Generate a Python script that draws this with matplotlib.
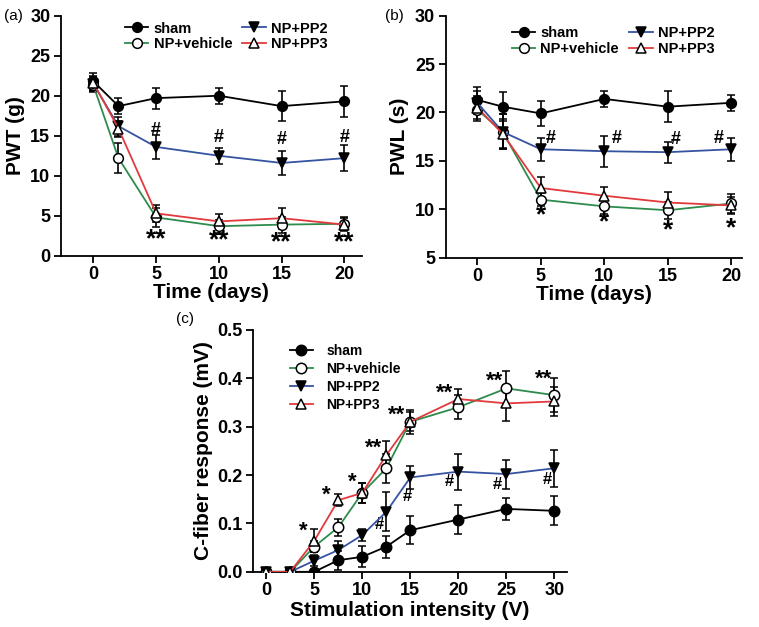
import matplotlib
matplotlib.use("Agg")
import matplotlib.pyplot as plt
from matplotlib.lines import Line2D

plt.rcParams["font.family"] = ["Liberation Sans", "DejaVu Sans"]
plt.rcParams["font.weight"] = "bold"

# Cores das séries
CORES = {
    "sham": "black",
    "NP+vehicle": "#2e8b4e",
    "NP+PP2": "#3553a0",
    "NP+PP3": "#e23a3c",
}
MARCADORES = {
    "sham": ("o", "black"),
    "NP+vehicle": ("o", "white"),
    "NP+PP2": ("v", "black"),
    "NP+PP3": ("^", "white"),
}
GRUPOS = ["sham", "NP+vehicle", "NP+PP2", "NP+PP3"]

# (a) PWT
dias = [0, 2, 5, 10, 15, 20]
pwt_media = {
    "sham": [21.8, 18.7, 19.7, 20.0, 18.7, 19.3],
    "NP+vehicle": [21.3, 12.2, 4.8, 3.7, 3.9, 4.0],
    "NP+PP2": [21.5, 16.2, 13.6, 12.5, 11.6, 12.2],
    "NP+PP3": [21.6, 15.9, 5.3, 4.3, 4.7, 3.9],
}
pwt_erro = {
    "sham": [1.1, 1.0, 1.3, 1.0, 1.9, 1.9],
    "NP+vehicle": [0.8, 1.9, 1.2, 0.8, 1.0, 0.8],
    "NP+PP2": [0.9, 1.2, 1.5, 1.0, 1.5, 1.6],
    "NP+PP3": [0.9, 1.0, 1.1, 0.9, 1.3, 0.8],
}

# (b) PWL
pwl_media = {
    "sham": [21.3, 20.6, 19.9, 21.4, 20.6, 21.0],
    "NP+vehicle": [20.3, 18.0, 11.0, 10.3, 9.9, 10.6],
    "NP+PP2": [21.0, 18.0, 16.2, 16.0, 15.9, 16.2],
    "NP+PP3": [20.5, 17.8, 12.2, 11.4, 10.7, 10.4],
}
pwl_erro = {
    "sham": [1.3, 1.5, 1.3, 0.8, 1.6, 0.8],
    "NP+vehicle": [1.2, 1.8, 0.7, 0.8, 0.9, 1.0],
    "NP+PP2": [1.2, 1.8, 1.2, 1.6, 1.1, 1.2],
    "NP+PP3": [1.2, 1.5, 1.1, 0.9, 1.1, 0.9],
}

# (c) C-fiber
intensidade = [0, 2.5, 5, 7.5, 10, 12.5, 15, 20, 25, 30]
cfibra_media = {
    "sham": [0, 0, 0.0, 0.024, 0.031, 0.052, 0.086, 0.108, 0.130, 0.126],
    "NP+vehicle": [0, 0, 0.052, 0.092, 0.163, 0.214, 0.310, 0.340, 0.379, 0.365],
    "NP+PP2": [0, 0, 0.023, 0.045, 0.076, 0.124, 0.195, 0.207, 0.202, 0.214],
    "NP+PP3": [0, 0, 0.064, 0.148, 0.163, 0.241, 0.310, 0.357, 0.348, 0.352],
}
cfibra_erro = {
    "sham": [0, 0, 0.0, 0.020, 0.022, 0.023, 0.029, 0.030, 0.023, 0.030],
    "NP+vehicle": [0, 0, 0.012, 0.017, 0.020, 0.030, 0.020, 0.025, 0.035, 0.035],
    "NP+PP2": [0, 0, 0.012, 0.018, 0.012, 0.040, 0.024, 0.037, 0.030, 0.038],
    "NP+PP3": [0, 0, 0.024, 0.013, 0.020, 0.030, 0.025, 0.020, 0.037, 0.030],
}

# Marcas de significância (x, y, texto)
sig_a_hash = [(5, 15.6), (10, 14.8), (15, 14.5), (20, 14.8)]
sig_a_star = [(5, 2.1), (10, 1.9), (15, 1.7), (20, 1.7)]
sig_b_hash = [(5.8, 17.3), (11.0, 17.3), (15.6, 17.2), (19.0, 17.3)]
sig_b_star = [(5, 9.4), (10, 8.7), (15, 7.8), (20, 8.0)]
sig_c = [(3.9, 0.083, "*"), (6.3, 0.158, "*"), (9.0, 0.186, "*"),
         (11.2, 0.256, "**"), (13.6, 0.323, "**"), (18.6, 0.370, "**"),
         (23.8, 0.393, "**"), (28.9, 0.397, "**"),
         (11.8, 0.097, "#"), (14.7, 0.155, "#"), (19.1, 0.186, "#"),
         (24.0, 0.181, "#"), (29.3, 0.190, "#")]


def desenhar(ax, x, medias, erros, ms=7):
    for g in GRUPOS:
        m, fc = MARCADORES[g]
        ax.errorbar(x, medias[g], yerr=erros[g], color=CORES[g], ecolor="black",
                    elinewidth=1.2, capsize=3, capthick=1.2, lw=1.3,
                    marker=m, ms=ms, mfc=fc, mec="black", mew=1.1, zorder=3)


def alcas(ms=7):
    lista = []
    for g in GRUPOS:
        m, fc = MARCADORES[g]
        lista.append(Line2D([], [], color=CORES[g], lw=1.3, marker=m, ms=ms,
                            mfc=fc, mec="black", mew=1.1, label=g))
    return lista


def estilo(ax):
    for s in ["top", "right"]:
        ax.spines[s].set_visible(False)
    for s in ["left", "bottom"]:
        ax.spines[s].set_linewidth(1.3)
    ax.tick_params(width=1.3, length=5, pad=2.5, labelsize=13)
    for lab in ax.get_xticklabels() + ax.get_yticklabels():
        lab.set_fontweight("bold")


fig = plt.figure(figsize=(7.59, 6.27), dpi=100)

# (a)
ax_a = fig.add_axes([0.080, 0.592, 0.397, 0.383])
desenhar(ax_a, dias, pwt_media, pwt_erro)
ax_a.set_xlim(-2.6, 21.4)
ax_a.set_ylim(0, 30)
ax_a.set_xticks([0, 5, 10, 15, 20])
ax_a.set_yticks([0, 5, 10, 15, 20, 25, 30])
ax_a.set_xlabel("Time (days)", fontsize=15, fontweight="bold", labelpad=0)
ax_a.set_ylabel("PWT (g)", fontsize=15, fontweight="bold", labelpad=4)
for x, y in sig_a_hash:
    ax_a.text(x, y, "#", ha="center", va="center", fontsize=13, fontweight="bold")
for x, y in sig_a_star:
    ax_a.text(x, y, "**", ha="center", va="center", fontsize=19, fontweight="bold")
ax_a.legend(handles=alcas(), ncol=2, loc="upper left", bbox_to_anchor=(0.17, 1.03),
            frameon=False, handlelength=1.6, handletextpad=0.35, columnspacing=0.7,
            labelspacing=0.1, prop={"weight": "bold", "size": 10.5})
estilo(ax_a)

# (b)
ax_b = fig.add_axes([0.587, 0.589, 0.390, 0.386])
desenhar(ax_b, dias, pwl_media, pwl_erro)
ax_b.set_xlim(-2.5, 20.8)
ax_b.set_ylim(5, 30)
ax_b.set_xticks([0, 5, 10, 15, 20])
ax_b.set_yticks([5, 10, 15, 20, 25, 30])
ax_b.set_xlabel("Time (days)", fontsize=15, fontweight="bold", labelpad=0)
ax_b.set_ylabel("PWL (s)", fontsize=15, fontweight="bold", labelpad=4)
for x, y in sig_b_hash:
    ax_b.text(x, y, "#", ha="center", va="center", fontsize=13, fontweight="bold")
for x, y in sig_b_star:
    ax_b.text(x, y, "*", ha="center", va="center", fontsize=19, fontweight="bold")
ax_b.legend(handles=alcas(), ncol=2, loc="upper left", bbox_to_anchor=(0.18, 1.01),
            frameon=False, handlelength=1.6, handletextpad=0.35, columnspacing=0.7,
            labelspacing=0.1, prop={"weight": "bold", "size": 10.5})
estilo(ax_b)

# (c)
ax_c = fig.add_axes([0.333, 0.088, 0.414, 0.386])
desenhar(ax_c, intensidade, cfibra_media, cfibra_erro, ms=7.5)
ax_c.set_xlim(-1.4, 31.3)
ax_c.set_ylim(0, 0.5)
ax_c.set_xticks([0, 5, 10, 15, 20, 25, 30])
ax_c.set_yticks([0.0, 0.1, 0.2, 0.3, 0.4, 0.5])
ax_c.set_yticklabels(["0.0", "0.1", "0.2", "0.3", "0.4", "0.5"])
ax_c.set_xlabel("Stimulation intensity (V)", fontsize=15, fontweight="bold", labelpad=1)
ax_c.set_ylabel("C-fiber response (mV)", fontsize=15, fontweight="bold", labelpad=3)
for x, y, t in sig_c:
    ax_c.text(x, y, t, ha="center", va="center",
              fontsize=16 if "*" in t else 12, fontweight="bold")
ax_c.legend(handles=alcas(7.5), loc="upper left", bbox_to_anchor=(0.08, 0.995),
            frameon=False, handlelength=1.6, handletextpad=1.0, labelspacing=0.3,
            prop={"weight": "bold", "size": 10})
estilo(ax_c)

# Rótulos dos painéis
fig.text(0.005, 0.975, "(a)", fontsize=11, fontweight="normal", va="center")
fig.text(0.507, 0.975, "(b)", fontsize=11, fontweight="normal", va="center")
fig.text(0.232, 0.492, "(c)", fontsize=11, fontweight="normal", va="center")

fig.savefig("out.png", dpi=100)
plt.close(fig)
